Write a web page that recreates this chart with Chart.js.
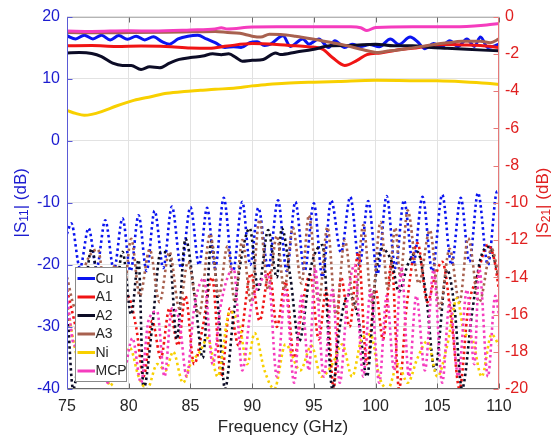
<!DOCTYPE html>
<html>
<head>
<meta charset="utf-8">
<script src="https://cdn.jsdelivr.net/npm/chart.js@4.4.0/dist/chart.umd.min.js"></script>
<style>
  html, body { margin: 0; padding: 0; background: #fff; }
  #wrap { width: 556px; height: 437px; }
</style>
</head>
<body>
<div id="wrap"><canvas id="sparam-chart" width="556" height="437"></canvas></div>
<script>
// ticks
const freqTicks = [75, 80, 85, 90, 95, 100, 105, 110];
const s11Ticks = [-40, -30, -20, -10, 0, 10, 20];
const s21Ticks = [-20, -18, -16, -14, -12, -10, -8, -6, -4, -2, 0];
const samples = ["Cu", "A1", "A2", "A3", "Ni", "MCP"];

// |S11| in dB, [GHz, dB] (left axis, dotted)
const cuS11 = [[75,-15],[75.35,-13.3],[76.05,-20.5],[76.75,-14.1],[77.4,-20.5],[78.1,-12.8],[78.8,-20.8],[79.5,-12.5],[80.15,-21],[80.8,-12],[81.45,-21],[82.1,-11.3],[82.8,-20.5],[83.5,-10.6],[84.25,-20.5],[85,-10.7],[85.7,-20],[86.35,-10.8],[87,-20.5],[87.7,-9.2],[88.45,-21],[89.2,-9.85],[89.85,-20],[90.5,-10.8],[91.3,-20.5],[92.1,-9.6],[92.8,-21],[93.5,-9.85],[94.25,-21],[95,-10.1],[95.7,-22],[96.4,-9.6],[97.2,-18],[97.95,-9.05],[98.7,-20],[99.4,-9.7],[100.15,-21.5],[100.9,-8.9],[101.6,-20.5],[102.3,-9.6],[103.05,-20],[103.8,-9.05],[104.6,-21],[105.4,-8.7],[106.15,-20],[106.9,-9.2],[107.6,-19.5],[108.3,-8.4],[109.1,-20],[109.85,-8.15],[110,-8.5]];
const a1S11 = [[75,-24],[75.7,-30],[76.4,-37],[77.1,-28],[77.8,-33],[78.5,-26],[79.2,-34],[79.9,-25],[80.6,-30],[81.2,-38],[81.9,-29],[82.6,-35],[83.3,-27],[84,-33],[84.6,-25],[85.3,-36],[86,-30],[86.75,-22],[87.5,-38],[88.2,-27],[88.9,-33],[89.9,-21.4],[90.6,-29],[91.4,-21],[92,-30],[92.7,-22.7],[93.4,-35],[94.1,-26],[94.7,-21.6],[95.4,-32],[96,-24],[96.6,-40],[97.2,-22],[97.9,-30],[98.6,-18],[99.3,-36],[100,-24],[100.6,-32],[101.3,-19.5],[101.9,-40],[102.5,-27],[103.4,-16.5],[104.2,-26],[104.8,-22],[105.4,-19.5],[106.2,-30],[106.8,-40],[107.5,-27],[108.2,-22],[109.1,-16.8],[109.6,-19],[110,-24]];
const a2S11 = [[75,-26],[75.5,-40],[76.2,-30],[77,-17.4],[77.7,-28],[78.3,-38],[79,-25],[79.5,-17.9],[80.2,-28],[80.8,-19.2],[81.2,-40],[81.9,-30],[82.6,-17.9],[83.3,-18.4],[83.9,-32],[84.6,-15.8],[85.4,-26],[86,-35],[86.7,-16.3],[87.3,-28],[87.8,-40],[88.5,-28],[89.2,-18],[89.8,-14.1],[90.5,-24],[91.3,-14.4],[92,-22],[92.4,-14.1],[93.1,-22],[93.8,-32.3],[94.8,-20],[95.7,-16.8],[96.5,-40],[97.1,-30],[97.8,-24.8],[98.6,-28.6],[99.3,-38],[100,-22],[100.5,-17.4],[101.3,-19.5],[101.9,-24.3],[102.6,-20],[103.4,-17.9],[104.1,-25],[104.8,-37],[105.8,-20.8],[106.4,-27],[107,-40],[107.8,-28],[108.5,-19],[109.2,-17.1],[110,-22]];
const a3S11 = [[75,-22],[75.7,-27],[76.5,-20],[77.5,-17.5],[78.2,-26],[78.9,-20],[79.5,-26],[80.2,-15.8],[80.9,-25],[81.7,-17.5],[82.5,-26],[83.3,-17.9],[84.1,-27],[84.8,-19.5],[85.7,-28],[86.6,-15],[87.3,-25],[88,-17],[88.6,-26],[89.2,-16],[89.9,-26],[90.6,-12.7],[91.3,-24],[92,-15.3],[92.6,-24],[93.3,-14],[94,-23],[94.6,-12],[95.4,-26],[96.1,-13.9],[96.8,-28],[97.5,-16],[98.3,-27],[99,-13.6],[99.7,-26],[100.4,-13.1],[101,-24],[101.6,-14],[102,-22],[102.6,-11.2],[103.5,-23],[104.4,-14.4],[105.2,-27],[106,-17.4],[106.8,-26],[107.5,-15.7],[108.4,-26],[109.4,-17.4],[110,-22]];
const niS11 = [[75,-26],[75.6,-33],[76.2,-37],[76.8,-33],[77.4,-31.2],[78,-36],[78.5,-39.5],[79.3,-35],[80.1,-33.4],[80.8,-38],[81.5,-40],[82.3,-36],[83,-37],[83.6,-34],[84.4,-39],[85,-36],[85.8,-33.9],[86.4,-31.8],[87.2,-38],[88.2,-27.5],[89,-30],[89.6,-36],[90.2,-31],[91,-37],[91.8,-40],[92.7,-32.8],[93.9,-37],[94.8,-33],[95.6,-38],[96.5,-36],[97.3,-32.8],[98.1,-38],[98.9,-31.8],[99.6,-31.2],[100.3,-38],[101,-40],[101.8,-36],[102.6,-39],[103.4,-35],[104.2,-32.3],[105,-38],[105.8,-33],[106.6,-25.4],[107.2,-31],[107.8,-31.8],[108.6,-38],[109.4,-31.2],[110,-33]];
const mcpS11 = [[75,-25],[75.6,-33],[76.2,-27],[76.9,-38],[77.6,-30],[78.3,-39],[79,-31],[79.6,-37],[80.3,-31.8],[81,-39],[81.6,-29],[82.3,-27.5],[82.9,-38],[83.5,-27],[84.1,-29],[84.7,-38],[85.3,-27],[86.1,-22.2],[86.8,-36],[87.5,-26],[88.5,-20.6],[89.2,-37],[89.9,-27],[90.6,-23],[91.3,-21.6],[92,-38],[92.7,-24],[93.4,-39],[94,-25],[94.6,-37],[95.1,-20.5],[95.8,-38],[96.5,-24],[97.1,-39],[97.7,-26],[98.3,-20],[99,-38],[99.6,-24],[100.3,-39],[100.9,-25],[101.5,-37],[102.1,-20.3],[102.7,-38],[103.3,-25],[104,-37],[104.7,-20.8],[105.4,-39],[106,-26],[106.7,-38],[107.4,-24],[108,-36],[108.4,-20.6],[109.1,-38],[109.7,-25],[110,-28]];

// |S21| in dB, [GHz, dB] (right axis, solid)
const cuS21 = [[75,-1.03],[75.7,-1.2],[76.4,-1],[77.1,-1.2],[77.8,-1],[78.5,-1.25],[79.2,-1.02],[79.9,-1.22],[80.6,-1.05],[81.3,-1.25],[82,-1.08],[82.7,-1.35],[83.3,-1.48],[84,-1.2],[84.8,-1.05],[85.6,-1],[86.3,-1.2],[87,-1.4],[87.8,-1.66],[88.5,-1.62],[89.1,-1.66],[89.8,-1.4],[90.4,-1.35],[91,-1.55],[91.5,-1.48],[92.5,-1.03],[93.1,-1.6],[94.1,-1.2],[94.6,-1.48],[95.4,-1.2],[96.2,-1.66],[96.7,-1.3],[97.5,-1.66],[98.1,-1.48],[98.8,-1.6],[99.5,-1.5],[100.3,-1.62],[101.2,-1.2],[101.9,-1.5],[102.8,-1.1],[103.4,-1.35],[104,-1.73],[104.7,-1.45],[105.3,-1.65],[106,-1.3],[106.7,-1.6],[107.4,-1.2],[108,-1.6],[108.5,-1.1],[109.1,-1.66],[110,-1.48]];
const a1S21 = [[75,-1.57],[77,-1.55],[79,-1.6],[81,-1.58],[83,-1.6],[85,-1.68],[86.5,-1.7],[88,-1.58],[90,-1.45],[92,-1.5],[93,-1.55],[94.5,-1.62],[95.7,-1.75],[96.5,-2.2],[97.5,-2.62],[98.5,-2.35],[99.3,-2.04],[100.4,-1.95],[102,-1.77],[103,-1.7],[104.4,-1.57],[105.8,-1.5],[107,-1.52],[108.5,-1.55],[110,-1.66]];
const a2S21 = [[75,-1.95],[76,-1.93],[77,-1.98],[77.8,-2.15],[78.7,-2.5],[79.5,-2.62],[80.2,-2.62],[81,-2.84],[81.7,-2.7],[82.5,-2.75],[83.3,-2.5],[84.1,-2.3],[85,-2.2],[86,-2.12],[86.8,-2],[87.5,-2.05],[88.1,-2],[88.7,-2.2],[89.2,-2.4],[90,-2.35],[90.9,-2.3],[91.9,-1.95],[92.3,-2.04],[93.6,-1.9],[94.9,-1.77],[96.3,-1.57],[98,-1.55],[100,-1.48],[101.5,-1.57],[103,-1.57],[104.5,-1.66],[105.8,-1.7],[107.4,-1.76],[110,-1.84]];
const a3S21 = [[75,-0.86],[78,-0.87],[80,-0.86],[83,-0.84],[85,-0.82],[87,-0.8],[88,-0.85],[89,-0.9],[90,-1.05],[90.7,-1.1],[91.4,-0.95],[92.3,-0.96],[93.5,-1.05],[94.9,-1.2],[96.3,-1.38],[97.7,-1.57],[99,-1.78],[100.2,-1.93],[101,-1.85],[102,-1.78],[103,-1.68],[104.5,-1.52],[105.8,-1.41],[107,-1.33],[108.5,-1.32],[109.3,-1.4],[110,-1.2]];
const niS21 = [[75,-5.04],[75.7,-5.2],[76.4,-5.3],[77,-5.25],[77.8,-5.1],[79,-4.8],[80.4,-4.5],[81.8,-4.3],[83.1,-4.12],[84.5,-4.02],[85.8,-3.96],[87,-3.9],[88.5,-3.85],[90,-3.72],[91.2,-3.65],[92.7,-3.58],[95,-3.52],[97,-3.48],[100,-3.42],[103,-3.44],[105,-3.45],[107,-3.5],[109,-3.58],[110,-3.65]];
const mcpS21 = [[75,-0.78],[77,-0.8],[80,-0.76],[82,-0.78],[85,-0.72],[87,-0.66],[87.5,-0.6],[88,-0.66],[90,-0.56],[92,-0.55],[95,-0.55],[98,-0.55],[98.8,-0.6],[99.3,-0.75],[100,-0.58],[103,-0.55],[106,-0.55],[108,-0.5],[109,-0.45],[110,-0.37]];

const s11Data = [cuS11, a1S11, a2S11, a3S11, niS11, mcpS11];
const s21Data = [cuS21, a1S21, a2S21, a3S21, niS21, mcpS21];

const colors = ["#0a14f0", "#f01414", "#0c0c26", "#a8614f", "#f8d000", "#f53cbe"];
const FONT = '"Liberation Sans", Arial, sans-serif';
const pts = a => a.map(p => ({ x: p[0], y: p[1] }));

var datasets = [];
// S21 solid lines, drawn on top
s21Data.forEach(function(d, i) {
  datasets.push({
    label: samples[i] + " S21", data: pts(d), yAxisID: "y2",
    borderColor: colors[i], borderWidth: 3, pointRadius: 0,
    cubicInterpolationMode: "monotone", order: 6 - i
  });
});
// S11 dotted lines
s11Data.forEach(function(d, i) {
  datasets.push({
    label: samples[i] + " S11", data: pts(d), yAxisID: "y",
    borderColor: colors[i], borderWidth: 2.6, borderDash: [2.5, 3], borderCapStyle: "butt",
    pointRadius: 0, cubicInterpolationMode: "monotone", order: 12 - i
  });
});

function setTicks(list) {
  return function(s) { s.ticks = list.map(v => ({ value: v })); };
}

// rotated axis title with subscript
function vTitle(ctx, cx, cy, parts, color) {
  ctx.save();
  ctx.translate(cx, cy);
  ctx.rotate(-Math.PI / 2);
  ctx.fillStyle = color;
  ctx.textBaseline = "middle";
  var w = 0;
  parts.forEach(function(p) { ctx.font = p[1] + "px " + FONT; w += ctx.measureText(p[0]).width; });
  var x = -w / 2;
  parts.forEach(function(p) {
    ctx.font = p[1] + "px " + FONT;
    ctx.fillText(p[0], x, p[2]);
    x += ctx.measureText(p[0]).width;
  });
  ctx.restore();
}

// box, inner tick marks, axis titles and legend
const frame = {
  id: "frame",
  afterDraw(chart) {
    const ctx = chart.ctx, a = chart.chartArea;
    const sx = chart.scales.x, sl = chart.scales.y, sr = chart.scales.y2;
    const L = Math.round(a.left) + 0.5, R = Math.round(a.right) - 0.5;
    const T = Math.round(a.top) + 0.5, B = Math.round(a.bottom) - 0.5;
    ctx.save();
    ctx.lineWidth = 1;

    ctx.strokeStyle = "#b4b4b4";
    ctx.beginPath(); ctx.moveTo(L, T); ctx.lineTo(R, T); ctx.stroke();
    ctx.strokeStyle = "#6a6a6a";
    ctx.beginPath(); ctx.moveTo(L, B); ctx.lineTo(R, B); ctx.stroke();
    freqTicks.forEach(function(v) {
      const px = Math.round(sx.getPixelForValue(v)) + 0.5;
      ctx.beginPath(); ctx.moveTo(px, B); ctx.lineTo(px, B - 5); ctx.stroke();
      ctx.beginPath(); ctx.moveTo(px, T); ctx.lineTo(px, T + 5); ctx.stroke();
    });

    ctx.strokeStyle = "#5a5ad6";
    ctx.beginPath(); ctx.moveTo(L, T); ctx.lineTo(L, B); ctx.stroke();
    s11Ticks.forEach(function(v) {
      const py = Math.round(sl.getPixelForValue(v)) + 0.5;
      ctx.beginPath(); ctx.moveTo(L, py); ctx.lineTo(L + 5, py); ctx.stroke();
    });

    ctx.strokeStyle = "#e67878";
    ctx.beginPath(); ctx.moveTo(R, T); ctx.lineTo(R, B); ctx.stroke();
    s21Ticks.forEach(function(v) {
      const py = Math.round(sr.getPixelForValue(v)) + 0.5;
      ctx.beginPath(); ctx.moveTo(R, py); ctx.lineTo(R - 5, py); ctx.stroke();
    });

    // titles
    ctx.fillStyle = "#262626";
    ctx.font = "17px " + FONT;
    ctx.textAlign = "center";
    ctx.textBaseline = "middle";
    ctx.fillText("Frequency (GHz)", (a.left + a.right) / 2, 427);
    ctx.textAlign = "left";
    const cy = (a.top + a.bottom) / 2;
    vTitle(ctx, 21, cy, [["|S", 17, 0], ["11", 12, 4], ["| (dB)", 17, 0]], "#1c1cd0");
    vTitle(ctx, 543, cy, [["|S", 17, 0], ["21", 12, 4], ["| (dB)", 17, 0]], "#e02020");

    // legend
    const lx = 75.5, ly = 267.5, lw = 51, lh = 114;
    ctx.fillStyle = "#ffffff";
    ctx.fillRect(lx, ly, lw, lh);
    ctx.strokeStyle = "#8a8a8a";
    ctx.strokeRect(lx, ly, lw, lh);
    ctx.font = "14px " + FONT;
    ctx.textBaseline = "middle";
    samples.forEach(function(name, i) {
      const y = 278.5 + i * 18.5;
      ctx.strokeStyle = colors[i];
      ctx.lineWidth = 3;
      ctx.beginPath(); ctx.moveTo(77.5, y); ctx.lineTo(95, y); ctx.stroke();
      ctx.fillStyle = "#262626";
      ctx.fillText(name, 95.5, y + 0.5);
    });
    ctx.restore();
  }
};

new Chart(document.getElementById("sparam-chart"), {
  type: "line",
  data: { datasets: datasets },
  options: {
    responsive: false,
    animation: false,
    devicePixelRatio: 1,
    layout: { padding: { top: 14, left: 0, right: 0, bottom: 0 } },
    plugins: { legend: { display: false }, tooltip: { enabled: false } },
    scales: {
      x: {
        type: "linear", min: 75, max: 110,
        afterBuildTicks: setTicks(freqTicks),
        afterFit: function(s) { s.height = 48; },
        grid: { color: "#e2e2e2", drawTicks: false },
        border: { display: false },
        ticks: { color: "#262626", font: { family: FONT, size: 16 }, padding: 8, maxRotation: 0 }
      },
      y: {
        position: "left", min: -40, max: 20,
        afterBuildTicks: setTicks(s11Ticks),
        afterFit: function(s) { s.width = 67; },
        grid: { color: "#e2e2e2", drawTicks: false },
        border: { display: false },
        ticks: { color: "#1c1cd0", font: { family: FONT, size: 16 }, padding: 7 }
      },
      y2: {
        position: "right", min: -20, max: 0,
        afterBuildTicks: setTicks(s21Ticks),
        afterFit: function(s) { s.width = 57; },
        grid: { drawOnChartArea: false, drawTicks: false },
        border: { display: false },
        ticks: { color: "#e02020", font: { family: FONT, size: 16 }, padding: 6 }
      }
    }
  },
  plugins: [frame]
});
</script>
</body>
</html>
